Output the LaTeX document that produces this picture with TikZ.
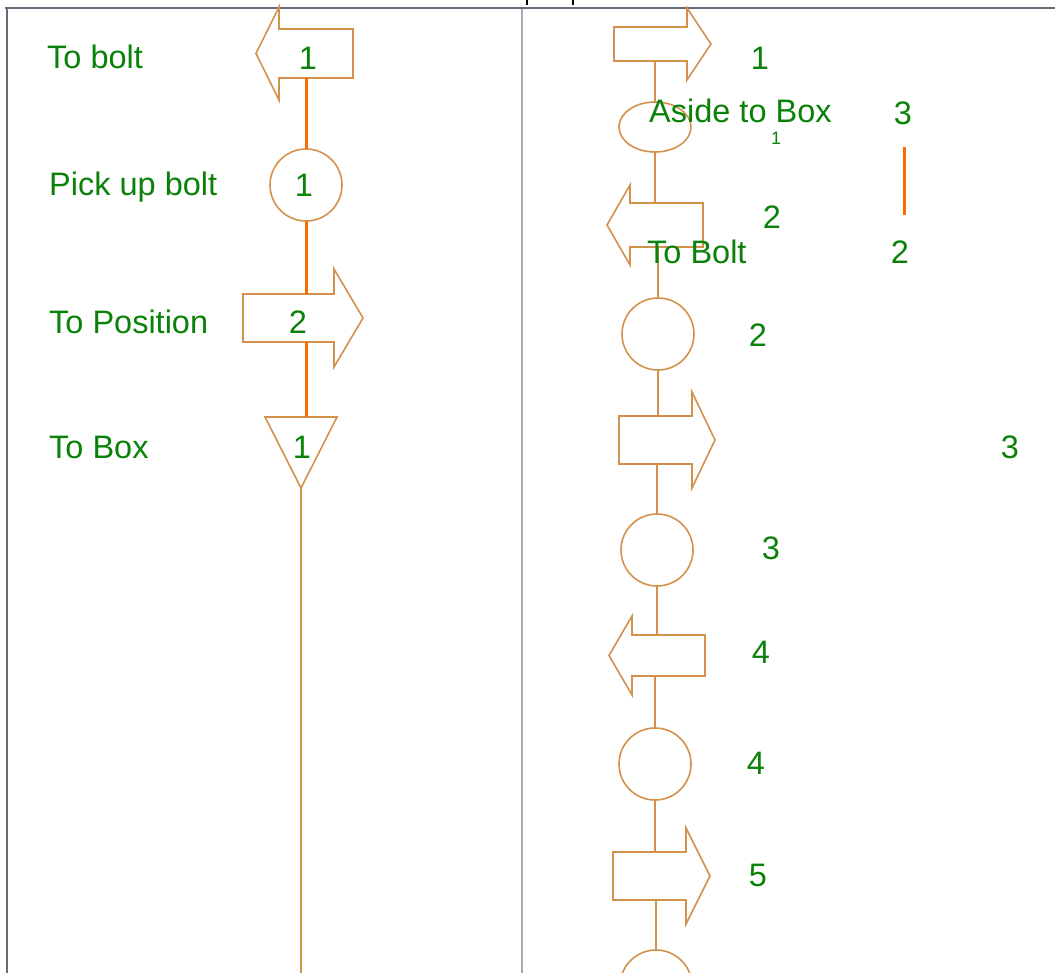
\documentclass[tikz,border=0pt]{standalone}
\usepackage{fontspec}
\setmainfont{Liberation Sans}
\usetikzlibrary{calc,shapes.geometric}
\definecolor{outl}{HTML}{D4914C}
\definecolor{oline}{HTML}{FF6A00}
\definecolor{gtext}{HTML}{0A820A}
\definecolor{frame}{HTML}{676B79}
\definecolor{divid}{HTML}{A9AAB3}
\tikzset{
  box/.style={inner sep=0pt, outer sep=0pt},
  outline/.style={draw=outl, line width=1.6pt, line join=miter},
  circ/.style={circle, draw=outl, line width=1.6pt, inner sep=0pt, outer sep=0pt, minimum size=72pt},
  ovl/.style={ellipse, draw=outl, line width=1.6pt, inner sep=0pt, outer sep=0pt, minimum width=72pt, minimum height=50pt},
  oconn/.style={draw=oline, line width=3pt},
  bconn/.style={draw=outl, line width=1.8pt},
  lbl/.style={text=gtext, inner sep=0pt, font=\fontsize{32.5}{38}\selectfont},
  smalllbl/.style={text=gtext, inner sep=0pt, font=\fontsize{18}{21}\selectfont},
}
% left-pointing arrow: name, cx, cy, shaft w, shaft h, head extension, head length
\newcommand\LArr[7]{%
  \node[box, minimum width=#4pt, minimum height=#5pt] (#1) at (#2,#3) {};
  \draw[outline] (#1.north east) -- (#1.south east) -- (#1.south west) -- ++(0,#6)
    -- ($(#1.west)+(-#7,0)$) -- ($(#1.north west)+(0,-#6)$) -- (#1.north west) -- cycle;}
% right-pointing arrow
\newcommand\RArr[7]{%
  \node[box, minimum width=#4pt, minimum height=#5pt] (#1) at (#2,#3) {};
  \draw[outline] (#1.north west) -- (#1.south west) -- (#1.south east) -- ++(0,#6)
    -- ($(#1.east)+(#7,0)$) -- ($(#1.north east)+(0,-#6)$) -- (#1.north east) -- cycle;}
\begin{document}
\begin{tikzpicture}[x=1pt,y=-1pt]
\useasboundingbox[fill=white] (0,0) rectangle (1055,972);
% frame
\coordinate (ftl) at (7,8);
\coordinate (ftr) at (1056,8);
\coordinate (fbl) at (7,975);
\coordinate (dtop) at (522,8);
\coordinate (dbot) at (522,975);
\draw[divid, line width=1.5pt] (dtop) -- (dbot);
\draw[frame, line width=2pt] (fbl) -- (ftl) -- (ftr);
\draw[frame, line width=2pt] (ftl) -- (5,8);
% fragments of the clipped title
\coordinate (p1a) at (527,0); \coordinate (p1b) at (527,5);
\coordinate (p2a) at (573,0); \coordinate (p2b) at (573,5);
\draw[black, line width=1.6pt] (p1a) -- (p1b) (p2a) -- (p2b);

% ---------- left column ----------
\LArr{la1}{316}{53.5}{74}{49}{22}{23}
\node[circ] (c1) at (306,185) {};
\RArr{ra2}{288.5}{318}{91}{48}{25}{29}
\node[box, minimum width=72pt, minimum height=71pt] (t1) at (301,452.5) {};
\draw[outline] (t1.north west) -- (t1.north east) -- (t1.south) -- cycle;
\coordinate (lend) at (301,980);

\draw[oconn] (la1.south -| c1.north) -- (c1.north);
\draw[oconn] (c1.south) -- (c1.south |- ra2.north);
\draw[oconn] (c1.south |- ra2.south) -- (c1.south |- t1.north);
\draw[bconn] (t1.south) -- (lend);

\node[lbl, anchor=base west] (l1) at (47,68) {To bolt};
\node[lbl, anchor=base west] (l2) at (49,195) {Pick up bolt};
\node[lbl, anchor=base west] (l3) at (49,333) {To Position};
\node[lbl, anchor=base west] (l4) at (49,458) {To Box};
\node[lbl] (n1) at (308,58) {1};
\node[lbl] (n2) at (304,185) {1};
\node[lbl] (n3) at (298,322) {2};
\node[lbl] (n4) at (302,447) {1};

% ---------- right column ----------
\RArr{ra1}{650.5}{44}{73}{34}{19}{24}
\node[ovl] (e1) at (655,127) {};
\LArr{la2}{666.5}{225}{73}{44}{18}{23}
\node[circ] (c2) at (658,334) {};
\RArr{ra3}{655.5}{440}{73}{48}{24}{23}
\node[circ] (c3) at (657,550) {};
\LArr{la4}{668.5}{655.5}{73}{41}{19}{23}
\node[circ] (c4) at (655,764) {};
\RArr{ra5}{649.5}{876}{73}{48}{24}{24}
\node[circ] (c5) at (656,986) {};

\draw[bconn] (ra1.south -| e1.north) -- (e1.north);
\draw[bconn] (e1.south) -- (e1.south |- la2.north);
\draw[bconn] (c2.north |- la2.south) -- (c2.north);
\draw[bconn] (c2.south) -- (c2.south |- ra3.north);
\draw[bconn] (c3.north |- ra3.south) -- (c3.north);
\draw[bconn] (c3.south) -- (c3.south |- la4.north);
\draw[bconn] (c4.north |- la4.south) -- (c4.north);
\draw[bconn] (c4.south) -- (c4.south |- ra5.north);
\draw[bconn] (c5.north |- ra5.south) -- (c5.north);

\coordinate (o1) at (904,147);
\coordinate (o2) at (904,215);
\draw[oconn] (o1) -- (o2);

\node[lbl] (r1) at (760,58) {1};
\node[lbl, anchor=base west] (r2) at (649,122) {Aside to Box};
\node[lbl] (r3) at (903,113) {3};
\node[smalllbl] (r4) at (776,138) {1};
\node[lbl] (r5) at (772,217) {2};
\node[lbl, anchor=base west] (r6) at (647,263) {To Bolt};
\node[lbl] (r7) at (900,252) {2};
\node[lbl] (r8) at (758,335) {2};
\node[lbl] (r9) at (1010,447) {3};
\node[lbl] (r10) at (771,548) {3};
\node[lbl] (r11) at (761,652) {4};
\node[lbl] (r12) at (756,763) {4};
\node[lbl] (r13) at (758,875) {5};
\end{tikzpicture}
\end{document}
